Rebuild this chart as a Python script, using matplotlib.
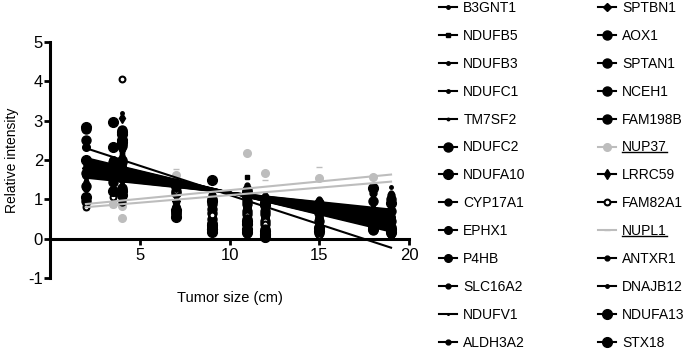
import numpy as np
import matplotlib
matplotlib.use('Agg')
import matplotlib.pyplot as plt
from matplotlib.lines import Line2D

plt.rcParams['font.family'] = ['Liberation Sans', 'DejaVu Sans']
plt.rcParams['axes.unicode_minus'] = False

# tumor size (cm) of the samples
tumor_size = [2, 3.5, 4, 4, 7, 9, 9, 11, 11, 12, 12, 15, 18, 19]

genes = ['B3GNT1', 'NDUFB5', 'NDUFB3', 'NDUFC1', 'TM7SF2', 'NDUFC2', 'NDUFA10',
         'CYP17A1', 'EPHX1', 'P4HB', 'SLC16A2', 'NDUFV1', 'ALDH3A2',
         'SPTBN1', 'AOX1', 'SPTAN1', 'NCEH1', 'FAM198B', 'NUP37', 'LRRC59',
         'FAM82A1', 'NUPL1', 'ANTXR1', 'DNAJB12', 'NDUFA13', 'STX18']

# relative intensity per gene, one value per sample
B3GNT1 = [1.65, 1.35, 1.50, 1.45, 1.00, 0.80, 0.62, 1.00, 0.90, 0.75, 0.68, 0.68, 0.75, 0.75]
NDUFB5 = [1.78, 1.80, 2.20, 2.15, 0.60, 0.40, 0.52, 1.58, 0.48, 0.35, 0.28, 0.40, 0.42, 0.40]
NDUFB3 = [1.60, 1.50, 1.40, 1.35, 1.10, 0.90, 0.78, 1.10, 1.02, 0.85, 0.88, 0.75, 0.85, 0.85]
NDUFC1 = [1.75, 1.65, 1.70, 1.65, 1.05, 0.65, 0.50, 0.85, 0.78, 0.60, 0.52, 0.55, 0.60, 0.60]
TM7SF2 = [1.55, 1.30, 1.00, 0.95, 1.40, 0.95, 0.85, 1.20, 1.12, 0.95, 0.92, 0.85, 0.90, 0.95]
NDUFC2 = [2.80, 1.85, 2.40, 2.35, 0.65, 0.30, 0.40, 0.50, 0.40, 0.25, 0.18, 0.30, 0.35, 0.30]
NDUFA10 = [2.85, 2.97, 2.50, 2.45, 0.55, 0.25, 0.35, 0.45, 0.38, 0.20, 0.12, 0.28, 0.32, 0.25]
CYP17A1 = [1.30, 1.25, 0.92, 1.05, 1.45, 1.10, 0.98, 1.30, 1.22, 1.05, 0.98, 0.95, 1.15, 1.10]
EPHX1 = [2.34, 2.00, 2.65, 2.60, 0.58, 0.22, 0.30, 0.30, 0.22, 0.12, 0.08, 0.18, 0.28, 0.20]
P4HB = [1.62, 1.58, 1.80, 1.75, 0.80, 0.60, 0.45, 0.80, 0.72, 0.55, 0.48, 0.52, 0.55, 0.55]
SLC16A2 = [1.45, 1.40, 1.10, 1.15, 1.30, 1.05, 0.92, 1.37, 1.28, 1.10, 1.02, 1.00, 1.00, 1.17]
NDUFV1 = [1.95, 1.90, 2.60, 2.55, 0.50, 0.20, 0.28, 0.35, 0.28, 0.15, 0.10, 0.25, 0.30, 0.22]
ALDH3A2 = [1.85, 1.62, 2.10, 2.05, 0.85, 0.45, 0.58, 0.65, 0.58, 0.40, 0.32, 0.42, 0.45, 0.42]
SPTBN1 = [1.80, 1.70, 1.90, 1.85, 0.95, 0.55, 0.42, 0.75, 0.68, 0.50, 0.42, 0.50, 0.50, 0.50]
AOX1 = [1.35, 1.60, 1.60, 1.55, 1.15, 0.75, 0.65, 0.95, 0.88, 0.70, 0.62, 0.65, 0.70, 0.70]
SPTAN1 = [2.52, 1.95, 2.77, 2.72, 0.62, 0.28, 0.20, 0.15, 0.20, 0.05, 0.08, 0.15, 0.23, 0.15]
NCEH1 = [0.95, 1.45, 1.30, 1.25, 1.20, 1.00, 0.88, 1.25, 1.18, 1.00, 0.95, 0.90, 0.95, 1.00]
FAM198B = [1.68, 1.75, 2.00, 1.95, 0.70, 0.50, 0.38, 0.70, 0.62, 0.45, 0.38, 0.45, 0.48, 0.45]
NUP37 = [0.87, 0.87, 0.53, 0.82, 1.63, 0.90, 0.70, 2.19, 1.00, 1.68, 0.80, 1.53, 1.58, 0.70]
LRRC59 = [1.70, 1.48, 3.07, 2.25, 0.90, 0.70, 0.55, 0.90, 0.82, 0.65, 0.58, 0.60, 0.65, 0.65]
FAM82A1 = [0.80, 1.07, 4.07, 2.30, 1.20, 1.00, 0.60, 0.60, 0.52, 0.45, 0.38, 0.10, 0.23, 0.10]
NUPL1 = [0.74, 0.80, 0.82, 1.00, 1.78, 0.85, 0.75, 0.95, 0.85, 1.50, 0.70, 1.83, 1.30, 1.00]
ANTXR1 = [1.90, 1.72, 2.30, 2.25, 0.75, 0.35, 0.48, 0.55, 0.48, 0.30, 0.22, 0.35, 0.40, 0.35]
DNAJB12 = [1.50, 1.55, 3.20, 1.20, 1.25, 0.85, 0.72, 1.05, 0.98, 0.80, 0.72, 0.70, 0.80, 1.32]
NDUFA13 = [1.07, 1.20, 1.20, 1.10, 1.35, 1.50, 0.95, 1.15, 1.08, 0.90, 0.85, 0.80, 1.30, 0.90]
STX18 = [2.00, 2.34, 2.70, 2.65, 0.72, 0.18, 0.25, 0.25, 0.18, 0.10, 0.05, 0.20, 0.25, 0.18]

values = [B3GNT1, NDUFB5, NDUFB3, NDUFC1, TM7SF2, NDUFC2, NDUFA10, CYP17A1,
          EPHX1, P4HB, SLC16A2, NDUFV1, ALDH3A2, SPTBN1, AOX1, SPTAN1, NCEH1,
          FAM198B, NUP37, LRRC59, FAM82A1, NUPL1, ANTXR1, DNAJB12, NDUFA13, STX18]

# linear fit parameters (slope, intercept) as drawn in the figure
fit_slope = [-0.0695, -0.0913, -0.0632, -0.0788, -0.0570, -0.0975, -0.1006,
             -0.0508, -0.1100, -0.0800, -0.0476, -0.1038, -0.0882,
             -0.0819, -0.0726, -0.1069, -0.0539, -0.0851, 0.0441, -0.0757,
             -0.1488, 0.0382, -0.0944, -0.0664, -0.0601, -0.0960]
fit_intercept = [1.864, 2.083, 1.801, 1.958, 1.739, 2.145, 2.176,
                 1.677, 2.270, 1.970, 1.645, 2.208, 2.051,
                 1.989, 1.895, 2.239, 1.708, 2.020, 0.792, 1.926,
                 2.598, 0.724, 2.114, 1.833, 1.770, 2.130]

GRAY = '#bdbdbd'
# marker, size, face colour, line colour for every gene
styles = {
    'B3GNT1': ('o', 2.5, 'k', 'k'), 'NDUFB5': ('s', 2.8, 'k', 'k'),
    'NDUFB3': ('o', 2.5, 'k', 'k'), 'NDUFC1': ('o', 2.5, 'k', 'k'),
    'TM7SF2': ('o', 1.8, 'k', 'k'), 'NDUFC2': ('o', 6.5, 'k', 'k'),
    'NDUFA10': ('o', 7, 'k', 'k'), 'CYP17A1': ('o', 5, 'k', 'k'),
    'EPHX1': ('o', 5.5, 'k', 'k'), 'P4HB': ('o', 5.5, 'k', 'k'),
    'SLC16A2': ('o', 3.5, 'k', 'k'), 'NDUFV1': ('o', 1.2, 'k', 'k'),
    'ALDH3A2': ('o', 3.5, 'k', 'k'), 'SPTBN1': ('D', 4, 'k', 'k'),
    'AOX1': ('o', 6.5, 'k', 'k'), 'SPTAN1': ('o', 6.5, 'k', 'k'),
    'NCEH1': ('o', 6.5, 'k', 'k'), 'FAM198B': ('o', 6.5, 'k', 'k'),
    'NUP37': ('o', 5.5, GRAY, GRAY), 'LRRC59': ('d', 5, 'k', 'k'),
    'FAM82A1': ('o', 4.2, 'w', 'k'), 'NUPL1': ('_', 4, GRAY, GRAY),
    'ANTXR1': ('o', 3.5, 'k', 'k'), 'DNAJB12': ('o', 2.5, 'k', 'k'),
    'NDUFA13': ('o', 7, 'k', 'k'), 'STX18': ('o', 7, 'k', 'k'),
}

fig = plt.figure(figsize=(6.86, 3.52), dpi=100)
ax = fig.add_axes([50/686, 74/352, 359/686, 236/352])

x = np.array(tumor_size)
handles = []
for name, y, k, b in zip(genes, values, fit_slope, fit_intercept):
    mk, ms, fc, c = styles[name]
    gray = c == GRAY
    mew = 1.5 if fc == 'w' else 1
    ax.plot(x, y, linestyle='none', marker=mk, markersize=ms, mfc=fc,
            mec=c, mew=mew, zorder=1.5 if gray else 2)
    xx = np.array([x.min(), x.max()])
    ax.plot(xx, k*xx + b, color=c, lw=1.5, zorder=4 if gray else 3)
    handles.append(Line2D([], [], color=c, lw=1.5, marker=mk, markersize=ms,
                          mfc=fc, mec=c, mew=mew))

ax.set_xlim(0, 20)
ax.set_ylim(-1, 5)
ax.set_xticks([5, 10, 15, 20])
ax.set_yticks([-1, 0, 1, 2, 3, 4, 5])
ax.spines['top'].set_visible(False)
ax.spines['right'].set_visible(False)
ax.spines['bottom'].set_position(('data', 0))
ax.spines['left'].set_linewidth(2.2)
ax.spines['bottom'].set_linewidth(2.2)
ax.tick_params(axis='both', width=2, length=4, labelsize=12)
ax.tick_params(axis='y', pad=1)
ax.tick_params(axis='x', pad=3)
ax.set_xlabel('Tumor size (cm)', fontsize=10.5, labelpad=20)
ax.set_ylabel('Relative intensity', fontsize=10, labelpad=7)

leg_kw = dict(frameon=False, fontsize=10, handlelength=1.3, handletextpad=0.45,
              labelspacing=1.0, borderpad=0, borderaxespad=0, loc='upper left')
leg1 = fig.legend(handles[:13], genes[:13], bbox_to_anchor=(439/686, 1 - 1/352), **leg_kw)
leg2 = fig.legend(handles[13:], genes[13:], bbox_to_anchor=(598/686, 1 - 1/352), **leg_kw)

# underline NUP37 and NUPL1 labels
fig.canvas.draw()
renderer = fig.canvas.get_renderer()
for t in leg2.get_texts():
    if t.get_text() in ('NUP37', 'NUPL1'):
        bb = t.get_window_extent(renderer).transformed(fig.transFigure.inverted())
        yl = bb.y0 + 2/352
        fig.add_artist(Line2D([bb.x0, bb.x1], [yl, yl], color='k', lw=1,
                              transform=fig.transFigure))

fig.savefig('out.png', dpi=100)
